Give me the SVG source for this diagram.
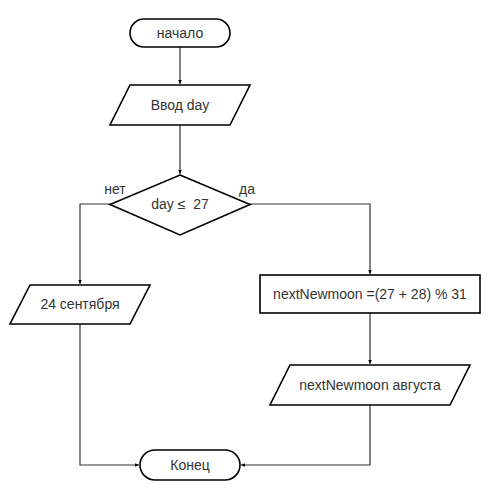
<svg xmlns="http://www.w3.org/2000/svg" width="500" height="500" viewBox="0 0 500 500">
  <defs>
    <style>
      .shape { fill: #ffffff; stroke: #000000; stroke-width: 1.6; }
      .edge { fill: none; stroke: #333333; stroke-width: 1.2; }
      .label { font-family: "Liberation Sans", Arial, sans-serif; font-size: 14px; fill: #333333; text-anchor: middle; dominant-baseline: central; white-space: pre; }
    </style>
    <marker id="arrow" viewBox="0 0 8 8" refX="7" refY="4" markerWidth="5" markerHeight="5" orient="auto" markerUnits="userSpaceOnUse">
      <path d="M0,1 L7,4 L0,7 Z" fill="#000000"/>
    </marker>
  </defs>
  <rect width="500" height="500" fill="#ffffff"/>

  <!-- connectors -->
  <g id="edges">
    <path class="edge" d="M180,47 L180,84" marker-end="url(#arrow)"/>
    <path class="edge" d="M180,125 L180,174" marker-end="url(#arrow)"/>
    <path class="edge" d="M110,204 L80,204 L80,284" marker-end="url(#arrow)"/>
    <path class="edge" d="M250,204 L370,204 L370,274" marker-end="url(#arrow)"/>
    <path class="edge" d="M370,313 L370,364" marker-end="url(#arrow)"/>
    <path class="edge" d="M80,324 L80,465 L139,465" marker-end="url(#arrow)"/>
    <path class="edge" d="M370,405 L370,465 L241,465" marker-end="url(#arrow)"/>
    <text class="label" x="115" y="189">нет</text>
    <text class="label" x="247" y="189">да</text>
  </g>

  <!-- start terminal -->
  <g id="start">
    <rect class="shape" x="130" y="19" width="100" height="28" rx="14" ry="14"/>
    <text class="label" x="180" y="33">начало</text>
  </g>

  <!-- input day -->
  <g id="input-day">
    <polygon class="shape" points="130,85 250,85 230,125 110,125"/>
    <text class="label" x="180" y="105">Ввод day</text>
  </g>

  <!-- decision -->
  <g id="decision">
    <polygon class="shape" points="180,175 250,204.5 180,235 110,204.5"/>
    <text class="label" x="180" y="204" xml:space="preserve">day ≤  27</text>
  </g>

  <!-- output for "no" branch -->
  <g id="out-september">
    <polygon class="shape" points="30,285 150,285 130,324 10,324"/>
    <text class="label" x="80" y="304">24 сентября</text>
  </g>

  <!-- calculation -->
  <g id="calc">
    <rect class="shape" x="260" y="275" width="220" height="38"/>
    <text class="label" x="370" y="294">nextNewmoon =(27 + 28) % 31</text>
  </g>

  <!-- output for "yes" branch -->
  <g id="out-august">
    <polygon class="shape" points="290,365 470,365 450,405 270,405"/>
    <text class="label" x="370" y="385">nextNewmoon августа</text>
  </g>

  <!-- end terminal -->
  <g id="end">
    <rect class="shape" x="140" y="450" width="100" height="30" rx="15" ry="15"/>
    <text class="label" x="190" y="465">Конец</text>
  </g>
</svg>
